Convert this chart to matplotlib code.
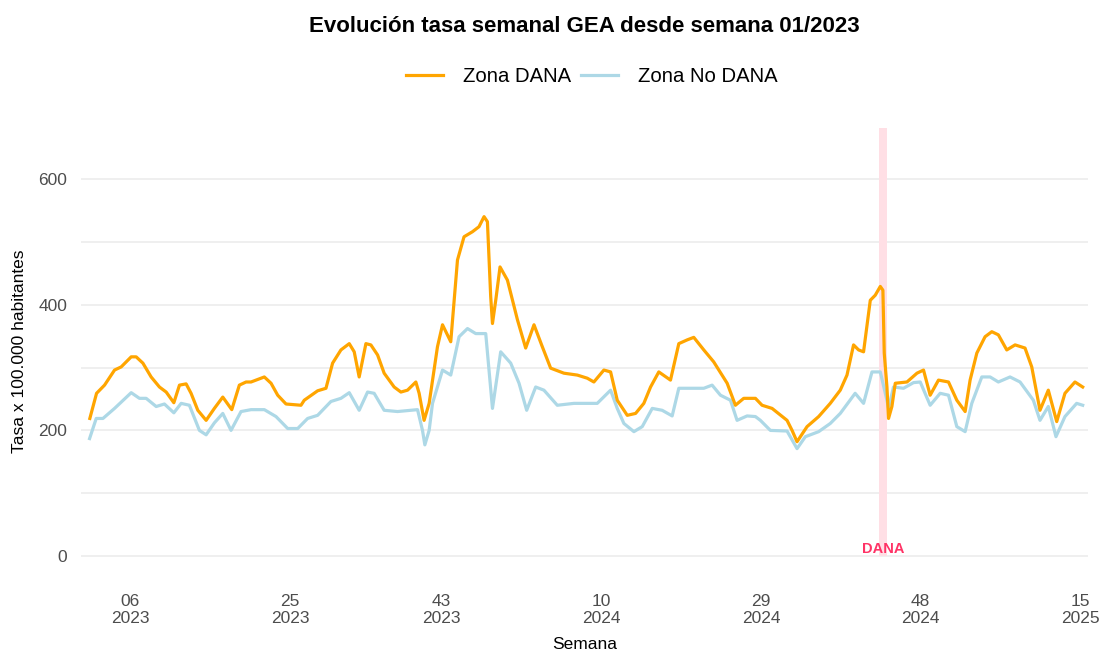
import matplotlib.pyplot as plt

plt.rcParams['font.family'] = ['Liberation Sans', 'DejaVu Sans']

# semanas transcurridas desde la semana 01/2023 (0 = semana 01/2023)
sem_dana = [0.2, 1.0, 1.95, 3.14, 3.93, 5.12, 5.71, 6.51, 7.49, 8.48, 9.28, 10.19, 10.86,
            11.65, 12.24, 13.04, 14.03, 15.01, 16.01, 17.08, 17.98, 18.78, 19.37, 20.95,
            21.75, 22.54, 23.53, 25.31, 25.70, 27.29, 28.28, 29.07, 30.06, 31.05, 31.64,
            32.23, 33.03, 33.62, 34.42, 35.20, 36.39, 37.19, 37.98, 38.97, 39.36, 39.95,
            40.55, 41.54, 42.14, 43.12, 43.92, 44.70, 45.70, 46.48, 47.08, 47.48, 47.87,
            48.08, 48.47, 48.98, 49.86, 51.05, 52.03, 53.02, 54.01, 55.00, 56.58, 58.17,
            59.36, 60.14, 61.33, 62.13, 62.92, 64.11, 65.10, 66.08, 66.88, 67.86, 69.25,
            70.24, 71.24, 72.02, 73.21, 74.39, 75.99, 76.97, 77.96, 79.35, 80.14, 81.33,
            83.11, 83.71, 84.30, 85.49, 86.87, 88.25, 89.44, 90.24, 91.02, 91.62, 92.21,
            93.01, 93.60, 94.20, 94.51, 94.67, 94.99, 95.18, 95.58, 95.98, 97.37, 98.56,
            99.34, 100.13, 101.12, 102.31, 103.30, 104.29, 104.88, 105.68, 106.66, 107.46,
            108.24, 109.24, 110.23, 111.41, 112.21, 113.19, 114.18, 115.18, 116.16, 117.35,
            118.27]
tasa_dana = [219, 259, 272, 296, 301, 317, 317, 307, 285, 269, 261, 244, 272,
             274, 259, 232, 216, 235, 253, 233, 272, 277, 277, 285,
             275, 256, 242, 240, 248, 263, 267, 307, 328, 338, 325,
             285, 338, 336, 320, 291, 269, 261, 264, 277, 259, 216,
             243, 333, 368, 341, 471, 508, 516, 524, 540, 532, 413,
             370, 407, 460, 439, 376, 331, 368, 333, 299, 291, 288,
             283, 277, 296, 293, 248, 224, 227, 243, 269, 293, 280,
             338, 344, 348, 328, 309, 275, 240, 251, 251, 240, 235,
             216, 200, 182, 206, 222, 243, 264, 288, 336, 328, 325,
             407, 415, 429, 423, 323, 269, 219, 238, 275, 277, 291,
             296, 256, 280, 277, 248, 230, 280, 323, 349, 357,
             352, 328, 336, 331, 301, 232, 264, 214, 259, 277,
             269]

sem_nodana = [0.17, 0.96, 1.76, 3.14, 5.12, 6.10, 6.90, 8.09, 9.07, 10.19, 11.06, 12.04,
              13.23, 14.03, 15.01, 16.01, 16.99, 18.18, 19.37, 20.95, 22.34, 23.73, 24.92,
              26.10, 27.29, 28.87, 30.06, 31.05, 32.23, 33.23, 34.01, 35.20, 36.79, 39.17,
              39.76, 40.04, 40.55, 40.95, 42.14, 43.12, 44.11, 45.11, 46.09, 47.28, 48.08,
              49.06, 50.25, 51.24, 52.15, 53.22, 54.20, 55.79, 57.77, 59.75, 60.54, 62.13,
              62.92, 63.71, 64.90, 65.89, 67.08, 68.26, 69.45, 70.24, 73.21, 74.20, 75.19,
              76.38, 77.17, 78.36, 79.35, 79.94, 81.13, 83.11, 84.30, 85.29, 86.87, 88.25,
              89.44, 91.21, 92.21, 93.21, 94.20, 94.99, 95.18, 95.77, 96.96, 98.15, 98.95,
              100.13, 101.32, 102.31, 103.30, 104.29, 105.08, 106.27, 107.26, 108.24,
              109.63, 110.82, 112.40, 113.19, 114.18, 115.09, 116.16, 117.55, 118.27]
tasa_nodana = [187, 219, 219, 235, 260, 251, 251, 238, 242, 228, 243, 240,
               200, 193, 212, 227, 200, 230, 233, 233, 222, 203, 203,
               219, 224, 246, 251, 260, 232, 261, 259, 232, 230, 233,
               200, 177, 200, 243, 296, 288, 349, 362, 354, 354, 235,
               325, 307, 275, 232, 269, 264, 240, 243, 243, 243, 264,
               235, 211, 198, 206, 235, 232, 223, 267, 267, 272, 256,
               248, 216, 223, 222, 216, 200, 199, 171, 190, 198, 211,
               227, 259, 243, 293, 293, 248, 235, 269, 267, 276, 277,
               240, 259, 256, 206, 198, 243, 285, 285, 277,
               285, 277, 248, 216, 238, 190, 222, 243, 240]

# etiquetas del eje x (semana, año)
tick_semanas = ["06", "25", "43", "10", "29", "48", "15"]
tick_anios = ["2023", "2023", "2023", "2024", "2024", "2024", "2025"]

dana_ini = 94.05
dana_fin = 95.0

fig = plt.figure(figsize=(11.04, 6.52), dpi=100)
ax = fig.add_axes([81 / 1104, 77 / 652, 1007 / 1104, 447 / 652])

ymin, ymax = -30, 681
ax.fill_between([dana_ini, dana_fin], 0, ymax, color="#ffdfe5", lw=0, zorder=1)
ax.plot(sem_dana, tasa_dana, color="orange", lw=2.3, label="Zona DANA", zorder=3)
ax.plot(sem_nodana, tasa_nodana, color="lightblue", lw=2.3, label="Zona No DANA", zorder=2)
ax.text((dana_ini + dana_fin) / 2, 0, "DANA", color="#ff3366", fontsize=10.5,
        fontweight="bold", ha="center", va="bottom", zorder=4)

ax.set_xlim(-0.85, 118.9)
ax.set_ylim(ymin, ymax)
ax.set_yticks([0, 200, 400, 600])
ax.set_yticks([100, 300, 500], minor=True)
ticks = [(int(a) - 2023) * 52 + int(s) - 1 for s, a in zip(tick_semanas, tick_anios)]
ax.set_xticks(ticks)
ax.set_xticklabels([s + "\n" + a for s, a in zip(tick_semanas, tick_anios)], linespacing=1.15)
ax.tick_params(axis="both", which="both", length=0, colors="#4d4d4d", labelsize=12.5)
ax.tick_params(axis="y", pad=10)
ax.tick_params(axis="x", pad=14)
ax.grid(axis="y", which="both", color="#ebebeb", lw=1.1)
ax.set_axisbelow(True)
for s in ax.spines.values():
    s.set_visible(False)

ax.set_ylabel("Tasa x 100.000 habitantes", fontsize=12.5, labelpad=8)
ax.set_xlabel("Semana", fontsize=12.5, labelpad=8)

fig.suptitle("Evolución tasa semanal GEA desde semana 01/2023", fontsize=16,
             fontweight="bold", x=584 / 1104, y=1 - 27 / 652, va="center")
fig.legend(loc="center", bbox_to_anchor=(592 / 1104, 1 - 77 / 652), ncol=2, frameon=False,
           fontsize=14.6, handlelength=1.8, handletextpad=1.0, columnspacing=0.5)

plt.savefig("out.png", dpi=100)
